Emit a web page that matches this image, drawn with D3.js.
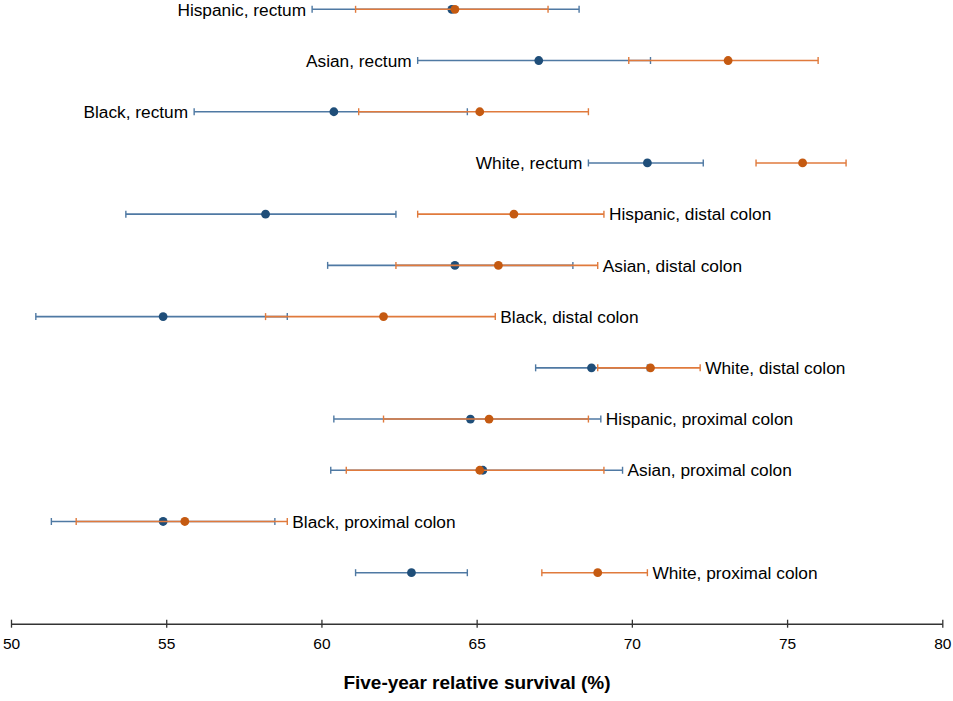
<!DOCTYPE html>
<html>
<head>
<meta charset="utf-8">
<script src="https://cdn.jsdelivr.net/npm/d3@7"></script>
<style>
html,body{margin:0;padding:0;background:#fff;}
svg{display:block;font-family:"Liberation Sans",Arial,Helvetica,sans-serif;}
</style>
</head>
<body>
<svg id="chart" width="953" height="701"></svg>
<script>
// Row labels, top to bottom
const categories = [
  "Hispanic, rectum","Asian, rectum","Black, rectum","White, rectum",
  "Hispanic, distal colon","Asian, distal colon","Black, distal colon","White, distal colon",
  "Hispanic, proximal colon","Asian, proximal colon","Black, proximal colon","White, proximal colon"
];
// Which side the label sits on
const labelSide = ["left","left","left","left","right","right","right","right","right","right","right","right"];

// Series A (blue)
const blueEst   = [64.2, 67.0, 60.4, 70.5, 58.2, 64.3, 54.9, 68.7, 64.8, 65.2, 54.9, 62.9];
const blueLow   = [59.7, 63.1, 55.9, 68.6, 53.7, 60.2, 50.8, 66.9, 60.4, 60.3, 51.3, 61.1];
const blueHigh  = [68.3, 70.6, 64.7, 72.3, 62.4, 68.1, 58.9, 70.5, 69.0, 69.7, 58.5, 64.7];

// Series B (orange)
const orangeEst  = [64.3, 73.1, 65.1, 75.5, 66.2, 65.7, 62.0, 70.6, 65.4, 65.1, 55.6, 68.9];
const orangeLow  = [61.1, 69.9, 61.2, 74.0, 63.1, 62.4, 58.2, 68.9, 62.0, 60.8, 52.1, 67.1];
const orangeHigh = [67.3, 76.0, 68.6, 76.9, 69.1, 68.9, 65.6, 72.2, 68.6, 69.1, 58.9, 70.5];

const xTicks = [50, 55, 60, 65, 70, 75, 80];
const xTitle = "Five-year relative survival (%)";

const svg = d3.select("#chart");
const x = d3.scaleLinear().domain([50, 80]).range([11, 942.3]);
const y = d3.scalePoint().domain(categories).range([9.3, 572.7]);
const axisY = 623.7;

const series = [
  {est: blueEst, low: blueLow, high: blueHigh, line: "#4f79a3", dot: "#1f4e79"},
  {est: orangeEst, low: orangeLow, high: orangeHigh, line: "#e07a3c", dot: "#c55a11"}
];

series.forEach(s => {
  const g = svg.append("g");
  const rows = categories.map((c, i) => ({c, est: s.est[i], low: s.low[i], high: s.high[i]}));
  g.selectAll("line.ci").data(rows).join("line")
    .attr("x1", d => x(d.low)).attr("x2", d => x(d.high))
    .attr("y1", d => y(d.c)).attr("y2", d => y(d.c))
    .attr("stroke", s.line).attr("stroke-width", 1.6);
  g.selectAll("line.capl").data(rows).join("line")
    .attr("x1", d => x(d.low)).attr("x2", d => x(d.low))
    .attr("y1", d => y(d.c) - 3.5).attr("y2", d => y(d.c) + 3.5)
    .attr("stroke", s.line).attr("stroke-width", 1.4);
  g.selectAll("line.caph").data(rows).join("line")
    .attr("x1", d => x(d.high)).attr("x2", d => x(d.high))
    .attr("y1", d => y(d.c) - 3.5).attr("y2", d => y(d.c) + 3.5)
    .attr("stroke", s.line).attr("stroke-width", 1.4);
  g.selectAll("circle").data(rows).join("circle")
    .attr("cx", d => x(d.est)).attr("cy", d => y(d.c)).attr("r", 4.4)
    .attr("fill", s.dot);
});

// Labels
svg.append("g").selectAll("text").data(categories).join("text")
  .attr("x", (c, i) => labelSide[i] === "left"
      ? x(Math.min(blueLow[i], orangeLow[i])) - 6
      : x(Math.max(blueHigh[i], orangeHigh[i])) + 5)
  .attr("y", c => y(c))
  .attr("dy", "0.36em")
  .attr("text-anchor", (c, i) => labelSide[i] === "left" ? "end" : "start")
  .attr("font-size", 17.3)
  .attr("fill", "#000")
  .text(c => c);

// X axis
const axis = d3.axisBottom(x).tickValues(xTicks).tickSize(4).tickSizeOuter(0).tickPadding(10);
const ag = svg.append("g").attr("transform", `translate(0,${axisY})`).call(axis);
ag.select(".domain").attr("stroke", "#333").attr("stroke-width", 1.5);
ag.selectAll(".tick line").attr("stroke", "#333").attr("stroke-width", 1.3).attr("y1", -4).attr("y2", 4);
ag.selectAll(".tick text").attr("font-size", 15.5).attr("fill", "#000")
  .attr("font-family", "'Liberation Sans',Arial,sans-serif");

svg.append("text")
  .attr("x", 477).attr("y", 689)
  .attr("text-anchor", "middle")
  .attr("font-size", 19).attr("font-weight", "bold").attr("fill", "#000")
  .text(xTitle);
</script>
</body>
</html>
